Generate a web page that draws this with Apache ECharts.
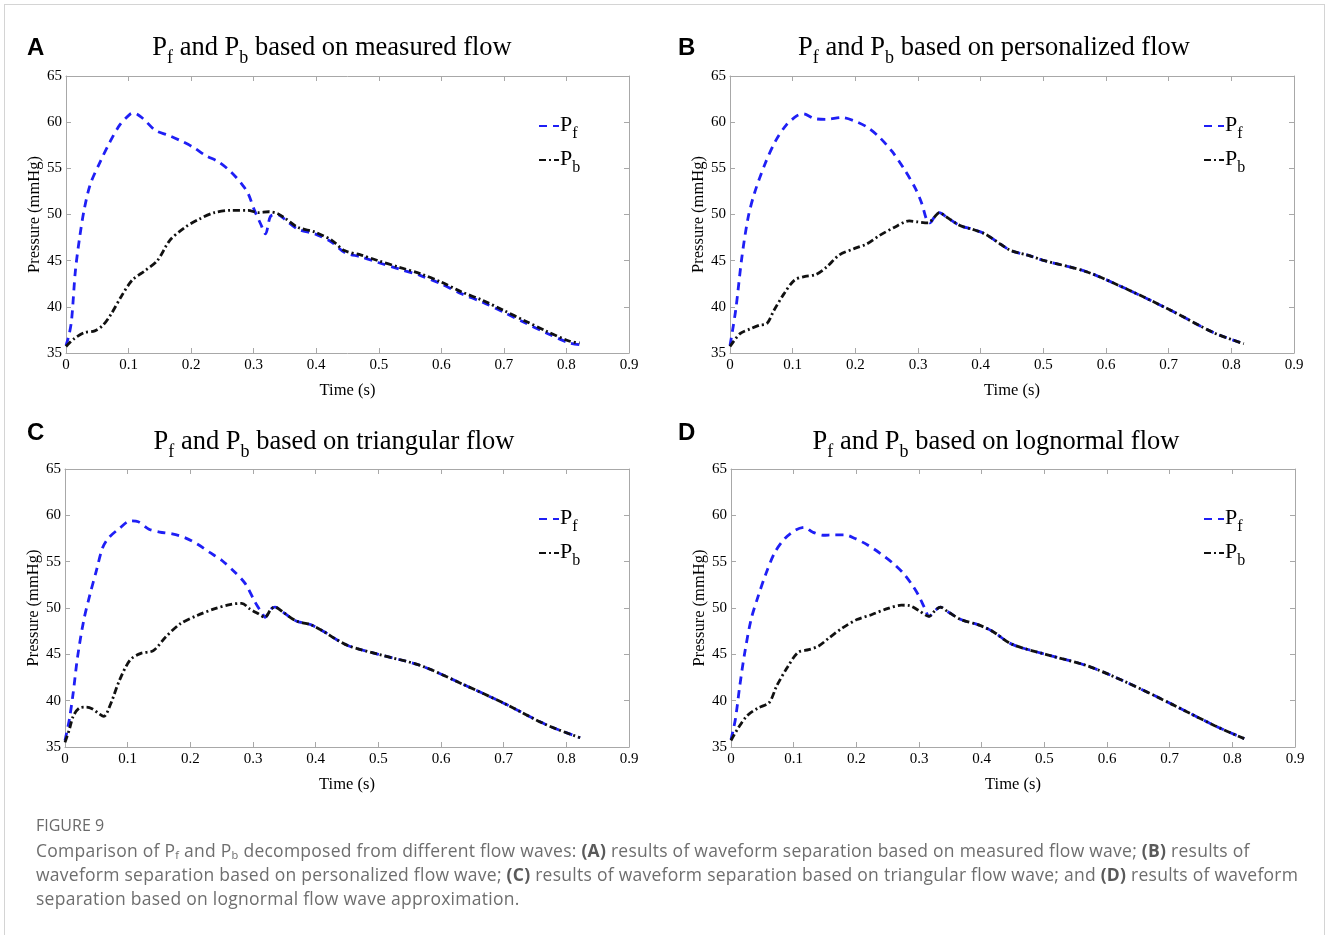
<!DOCTYPE html>
<html>
<head>
<meta charset="utf-8">
<title>Figure 9</title>
<script src="https://cdn.jsdelivr.net/npm/echarts/dist/echarts.min.js"></script>
<style>
  html, body { margin: 0; padding: 0; background: #fff; }
  body { width: 1328px; height: 935px; position: relative; overflow: hidden; }
  /* 外框 */
  .frame {
    position: absolute; left: 4px; top: 4px; width: 1321px; height: 1000px;
    border: 1px solid #d4d4d4; box-sizing: border-box;
  }
  #chart { position: absolute; left: 0; top: 0; width: 1328px; height: 935px; }
  .caption {
    position: absolute; left: 36px; top: 813px; width: 1285px;
    font-family: 'Open Sans', sans-serif; font-size: 17.5px; letter-spacing: 0.26px; line-height: 24px; color: #6e6e6e;
    white-space: nowrap;
  }
  .caption .fig { font-size: 16px; letter-spacing: 0; color: #6a6a6a; margin-bottom: 1px; }
  .caption b { font-weight: 700; color: #5a5a5a; }
  .caption sub { font-size: 11px; vertical-align: -2px; line-height: 0; }
</style>
</head>
<body>
<div class="frame"></div>
<div id="chart"></div>
<div class="caption">
  <div class="fig">FIGURE 9</div>
  Comparison of P<sub>f</sub> and P<sub>b</sub> decomposed from different flow waves: <b>(A)</b> results of waveform separation based on measured flow wave; <b>(B)</b> results of<br>
  waveform separation based on personalized flow wave; <b>(C)</b> results of waveform separation based on triangular flow wave; and <b>(D)</b> results of waveform<br>
  separation based on lognormal flow wave approximation.
</div>
<script>
// ---- data ----
const panelLetters = ['A', 'B', 'C', 'D']
const panelFlows = ['measured', 'personalized', 'triangular', 'lognormal']
const xTicks = [0, 0.1, 0.2, 0.3, 0.4, 0.5, 0.6, 0.7, 0.8, 0.9]
const yTicks = [35, 40, 45, 50, 55, 60, 65]

// A: measured flow
const aPfTime = [0, 0.005, 0.009, 0.015, 0.022, 0.029, 0.039, 0.056, 0.069, 0.086, 0.103, 0.108, 0.123, 0.143, 0.163, 0.183, 0.203, 0.223, 0.244, 0.264, 0.281, 0.291, 0.301, 0.311, 0.319, 0.327, 0.338, 0.351, 0.371, 0.398, 0.425, 0.445, 0.472, 0.499, 0.532, 0.566, 0.599, 0.633, 0.666, 0.7, 0.733, 0.767, 0.804, 0.821]
const aPfValue = [35.8, 37.0, 38.6, 43.9, 47.6, 50.5, 53.3, 55.9, 57.7, 59.7, 60.9, 61.0, 60.4, 59.1, 58.6, 58.0, 57.3, 56.4, 55.7, 54.6, 53.3, 52.3, 50.5, 49.0, 47.9, 49.8, 50.0, 49.4, 48.4, 47.9, 47.0, 45.9, 45.4, 44.8, 44.1, 43.4, 42.5, 41.4, 40.5, 39.4, 38.3, 37.2, 36.1, 35.9]
const aPbTime = [0, 0.012, 0.029, 0.046, 0.059, 0.072, 0.089, 0.106, 0.126, 0.146, 0.166, 0.19, 0.213, 0.237, 0.264, 0.291, 0.307, 0.324, 0.338, 0.351, 0.371, 0.398, 0.425, 0.445, 0.472, 0.499, 0.532, 0.566, 0.599, 0.633, 0.666, 0.7, 0.733, 0.767, 0.804, 0.821]
const aPbValue = [35.7, 36.5, 37.2, 37.4, 38.0, 39.2, 41.2, 42.9, 43.9, 45.0, 47.2, 48.6, 49.5, 50.2, 50.45, 50.45, 50.2, 50.3, 50.1, 49.55, 48.6, 48.1, 47.2, 46.1, 45.6, 45.0, 44.3, 43.6, 42.7, 41.6, 40.7, 39.6, 38.5, 37.4, 36.3, 36.1]

// B: personalized flow
const bPfTime = [0, 0.009, 0.019, 0.029, 0.039, 0.056, 0.073, 0.09, 0.107, 0.117, 0.134, 0.154, 0.178, 0.198, 0.218, 0.238, 0.259, 0.279, 0.296, 0.306, 0.314, 0.319, 0.326, 0.334, 0.346, 0.367, 0.387, 0.407, 0.427, 0.448, 0.475, 0.502, 0.569, 0.637, 0.704, 0.772, 0.82]
const bPfValue = [35.8, 39.6, 45.4, 49.7, 52.3, 55.5, 58.0, 59.7, 60.7, 60.9, 60.4, 60.3, 60.5, 60.15, 59.5, 58.4, 56.8, 54.8, 52.8, 51.2, 49.4, 49.1, 49.7, 50.2, 49.7, 48.8, 48.4, 47.9, 47.0, 46.1, 45.6, 45.0, 43.8, 41.8, 39.6, 37.2, 36.0]
const bPbTime = [0, 0.016, 0.032, 0.046, 0.059, 0.07, 0.086, 0.103, 0.12, 0.137, 0.154, 0.174, 0.198, 0.218, 0.238, 0.262, 0.286, 0.299, 0.316, 0.326, 0.334, 0.346, 0.367, 0.387, 0.407, 0.427, 0.448, 0.475, 0.502, 0.569, 0.637, 0.704, 0.772, 0.82]
const bPbValue = [35.7, 37.1, 37.6, 38.0, 38.2, 39.6, 41.4, 42.9, 43.3, 43.5, 44.3, 45.6, 46.3, 46.8, 47.7, 48.6, 49.3, 49.2, 49.1, 49.7, 50.2, 49.7, 48.8, 48.4, 47.9, 47.0, 46.1, 45.6, 45.0, 43.8, 41.8, 39.6, 37.2, 36.0]

// C: triangular flow
const cPfTime = [0, 0.007, 0.013, 0.02, 0.03, 0.04, 0.05, 0.06, 0.07, 0.087, 0.104, 0.117, 0.134, 0.151, 0.171, 0.191, 0.211, 0.231, 0.251, 0.272, 0.288, 0.302, 0.308, 0.315, 0.319, 0.329, 0.335, 0.349, 0.369, 0.392, 0.412, 0.433, 0.453, 0.5, 0.567, 0.634, 0.701, 0.768, 0.822]
const cPfValue = [35.7, 38.0, 40.8, 44.7, 48.7, 51.5, 54.0, 56.5, 57.6, 58.6, 59.4, 59.3, 58.5, 58.2, 58.0, 57.6, 56.9, 56.0, 55.1, 53.8, 52.6, 50.8, 50.1, 49.4, 49.0, 49.9, 50.1, 49.5, 48.6, 48.2, 47.5, 46.6, 45.9, 45.0, 43.8, 41.8, 39.7, 37.4, 36.0]
const cPbTime = [0, 0.007, 0.013, 0.023, 0.034, 0.044, 0.054, 0.062, 0.072, 0.087, 0.104, 0.121, 0.141, 0.161, 0.184, 0.211, 0.238, 0.265, 0.282, 0.295, 0.308, 0.319, 0.329, 0.335, 0.349, 0.369, 0.392, 0.412, 0.433, 0.453, 0.5, 0.567, 0.634, 0.701, 0.768, 0.822]
const cPbValue = [35.5, 36.9, 38.3, 39.2, 39.3, 39.1, 38.6, 38.3, 39.5, 42.2, 44.4, 45.1, 45.4, 46.9, 48.3, 49.2, 49.9, 50.4, 50.5, 49.9, 49.4, 49.0, 49.9, 50.1, 49.5, 48.6, 48.2, 47.5, 46.6, 45.9, 45.0, 43.8, 41.8, 39.7, 37.4, 36.0]

// D: lognormal flow
const dPfTime = [0, 0.007, 0.014, 0.022, 0.032, 0.043, 0.056, 0.07, 0.086, 0.103, 0.117, 0.13, 0.147, 0.164, 0.181, 0.198, 0.218, 0.238, 0.259, 0.275, 0.289, 0.299, 0.309, 0.316, 0.326, 0.334, 0.346, 0.367, 0.394, 0.417, 0.448, 0.502, 0.569, 0.637, 0.704, 0.772, 0.819]
const dPfValue = [35.8, 38.0, 41.6, 45.2, 48.75, 51.2, 53.75, 56.0, 57.5, 58.4, 58.7, 58.2, 57.85, 57.9, 57.9, 57.5, 56.8, 55.9, 54.8, 53.75, 52.5, 51.4, 50.0, 49.1, 49.75, 50.1, 49.6, 48.75, 48.2, 47.5, 46.1, 45.0, 43.75, 41.8, 39.6, 37.3, 35.9]
const dPbTime = [0, 0.012, 0.026, 0.043, 0.061, 0.073, 0.09, 0.107, 0.124, 0.14, 0.157, 0.178, 0.201, 0.225, 0.248, 0.272, 0.285, 0.299, 0.316, 0.326, 0.334, 0.346, 0.367, 0.394, 0.417, 0.448, 0.502, 0.569, 0.637, 0.704, 0.772, 0.819]
const dPbValue = [35.7, 37.1, 38.4, 39.2, 39.8, 41.6, 43.6, 45.2, 45.5, 45.9, 46.8, 47.85, 48.75, 49.3, 49.9, 50.3, 50.25, 49.75, 49.1, 49.75, 50.1, 49.6, 48.75, 48.2, 47.5, 46.1, 45.0, 43.75, 41.8, 39.6, 37.3, 35.9]

const pfSets = [[aPfTime, aPfValue], [bPfTime, bPfValue], [cPfTime, cPfValue], [dPfTime, dPfValue]]
const pbSets = [[aPbTime, aPbValue], [bPbTime, bPbValue], [cPbTime, cPbValue], [dPbTime, dPbValue]]

// ---- layout ----
const grids = [
  { left: 66, top: 76, width: 563, height: 277 },
  { left: 730, top: 76, width: 564, height: 277 },
  { left: 65, top: 469, width: 564, height: 278 },
  { left: 731, top: 469, width: 564, height: 278 }
]
const titleCenters = [[332, 35], [994, 35], [334, 429], [996, 429]]
const letterPos = [[27, 36], [678, 36], [27, 421], [678, 421]]
const legendPos = [[538, 114], [1203, 114], [538, 507], [1203, 507]]

const serif = 'Liberation Serif'
const axisGray = '#a8a8a8'

const zip = (xs, ys) => xs.map((x, i) => [x, ys[i]])

const titleRich = {
  n: { fontFamily: serif, fontSize: 26.5, fontWeight: 'normal', color: '#000', verticalAlign: 'top', lineHeight: 29 },
  s: { fontFamily: serif, fontSize: 18, fontWeight: 'normal', color: '#000', verticalAlign: 'top', lineHeight: 18, padding: [14, 0, 0, 0] }
}
const legendRich = {
  n: { fontFamily: serif, fontSize: 22, color: '#000', verticalAlign: 'top', lineHeight: 24 },
  s: { fontFamily: serif, fontSize: 16, color: '#000', verticalAlign: 'top', lineHeight: 16, padding: [12, 0, 0, 0] }
}

const option = {
  animation: false,
  title: [],
  legend: [],
  grid: grids.map(g => Object.assign({ containLabel: false }, g)),
  xAxis: [],
  yAxis: [],
  series: [],
  graphic: []
}

grids.forEach((g, i) => {
  option.title.push({
    text: '{n|P}{s|f}{n| and P}{s|b}{n| based on ' + panelFlows[i] + ' flow}',
    left: titleCenters[i][0],
    top: titleCenters[i][1],
    textAlign: 'center',
    padding: 0,
    textStyle: { fontWeight: 'normal', rich: titleRich }
  })
  option.graphic.push({
    type: 'text',
    left: letterPos[i][0],
    top: letterPos[i][1],
    style: { text: panelLetters[i], font: 'bold 24px "Liberation Sans", Arial', fill: '#000' }
  })
  option.legend.push({
    left: legendPos[i][0],
    top: legendPos[i][1],
    orient: 'vertical',
    itemWidth: 20,
    itemHeight: 12,
    itemGap: 6,
    padding: 0,
    data: ['Pf', 'Pb'],
    itemStyle: { opacity: 0 },
    formatter: name => name === 'Pf' ? '{n|P}{s|f}' : '{n|P}{s|b}',
    textStyle: { rich: legendRich, padding: [0, 0, 0, -4] }
  })

  const xBase = {
    type: 'value', gridIndex: i, min: 0, max: 0.9, interval: 0.1,
    axisLine: { show: true, onZero: false, lineStyle: { color: axisGray, width: 1 } },
    axisTick: { show: true, inside: true, length: 5, lineStyle: { color: axisGray } },
    splitLine: { show: false }
  }
  option.xAxis.push(Object.assign({}, xBase, {
    position: 'bottom',
    name: 'Time (s)', nameLocation: 'middle', nameGap: 29,
    nameTextStyle: { fontFamily: serif, fontSize: 16.5, color: '#000' },
    axisLabel: { fontFamily: serif, fontSize: 15, color: '#000', margin: 5, formatter: v => String(+v.toFixed(1)) }
  }))
  option.xAxis.push(Object.assign({}, xBase, { position: 'top', axisLabel: { show: false } }))

  const yBase = {
    type: 'value', gridIndex: i, min: 35, max: 65, interval: 5,
    axisLine: { show: true, onZero: false, lineStyle: { color: axisGray, width: 1 } },
    axisTick: { show: true, inside: true, length: 5, lineStyle: { color: axisGray } },
    splitLine: { show: false }
  }
  option.yAxis.push(Object.assign({}, yBase, {
    position: 'left',
    name: 'Pressure (mmHg)', nameLocation: 'middle', nameGap: 17, nameRotate: 90,
    nameTextStyle: { fontFamily: serif, fontSize: 16.5, color: '#000' },
    axisLabel: { fontFamily: serif, fontSize: 15, color: '#000', margin: 4 }
  }))
  option.yAxis.push(Object.assign({}, yBase, { position: 'right', axisLabel: { show: false } }))

  option.series.push({
    name: 'Pf', type: 'line', xAxisIndex: 2 * i, yAxisIndex: 2 * i,
    data: zip(pfSets[i][0], pfSets[i][1]),
    smooth: 0.3, symbol: 'none',
    lineStyle: { color: '#1f1ff5', width: 2.8, type: [8, 6] },
    itemStyle: { color: '#1f1ff5' }
  })
  option.series.push({
    name: 'Pb', type: 'line', xAxisIndex: 2 * i, yAxisIndex: 2 * i,
    data: zip(pbSets[i][0], pbSets[i][1]),
    smooth: 0.3, symbol: 'none',
    lineStyle: { color: '#111', width: 2.8, type: [7, 3, 2, 3] },
    itemStyle: { color: '#111' }
  })
})

const myChart = echarts.init(document.getElementById('chart'), null, { renderer: 'canvas' })
myChart.setOption(option)
</script>
</body>
</html>
